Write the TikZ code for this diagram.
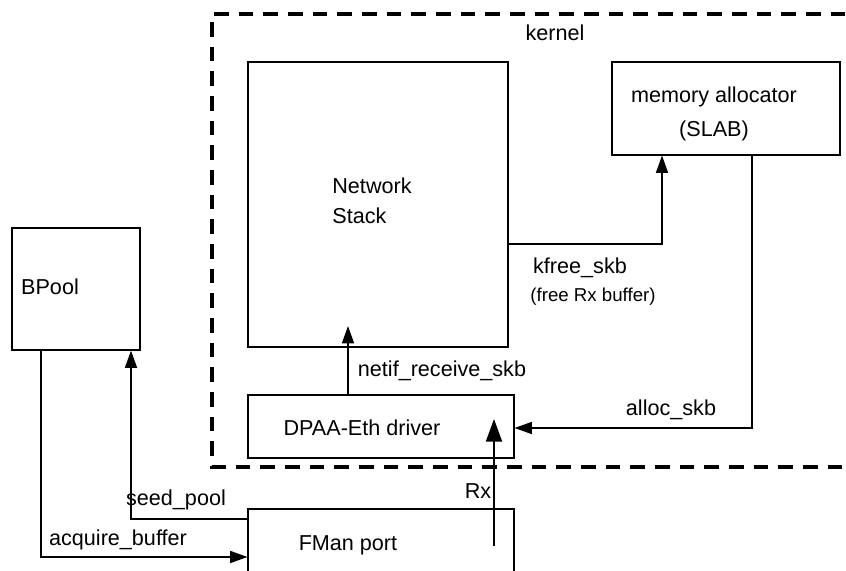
\documentclass[tikz,border=0pt]{standalone}
\usepackage{fontspec}
\setmainfont{Liberation Sans}
\usetikzlibrary{arrows.meta}
\begin{document}
\begin{tikzpicture}[x=0.75pt,y=-0.75pt,
  box/.style={draw, line width=0.8pt, inner sep=0pt, rectangle},
  lbl/.style={font=\fontsize{16.2}{22.5}\selectfont, inner sep=0pt},
  small/.style={font=\fontsize{14}{16}\selectfont, inner sep=0pt},
  arr/.style={line width=1.2pt, -{Triangle[length=13pt,width=9pt]}},
  bigarr/.style={line width=1.6pt, -{Triangle[length=17pt,width=12pt]}},
  kernelline/.style={line width=3pt, dash pattern=on 11pt off 7.5pt}]
\useasboundingbox (0,0) rectangle (846,571);
\clip (0,0) rectangle (846,571);
% kernel region
\draw[kernelline] (870,14) -- (212,14) -- (212,467) -- (870,467);
\node[lbl] (kernel) at (555,33) {kernel};
% boxes
\node[box, line width=1.5pt, minimum width=195pt, minimum height=213.75pt] (ns) at (378,204.5) {};
\node[lbl, align=left] (nstxt) at (372,201) {Network\\Stack};
\node[box, minimum width=171pt, minimum height=69.75pt] (mem) at (726,108.5) {};
\node[lbl, align=center, font=\fontsize{16.2}{26}\selectfont] (memtxt) at (714,114) {memory allocator\\(SLAB)};
\node[box, minimum width=199.5pt, minimum height=47.25pt] (drv) at (381,426.5) {};
\node[lbl] (drvtxt) at (362,428) {DPAA-Eth driver};
\node[box, minimum width=199.5pt, minimum height=60.75pt] (fman) at (381,549.5) {};
\node[lbl] (fmantxt) at (348,545) {FMan port};
\node[box, minimum width=96pt, minimum height=91.5pt] (bpool) at (76,289) {};
\node[lbl] (bpooltxt) at (50,287) {BPool};
% connectors
\draw[arr] (ns.east |- 0,244) -| (662,0 |- mem.south);
\node[lbl] (kfree) at (580,268) {kfree\_skb};
\node[small] (kfreesub) at (593,297) {(free Rx buffer)};
\draw[arr] (752,0 |- mem.south) |- (drv.east |- 0,428);
\node[lbl] (alloc) at (671,410) {alloc\_skb};
\coordinate (netifend) at (348,326);
\draw[arr] (348,0 |- drv.north) -- (netifend);
\node[lbl] (netif) at (442,371) {netif\_receive\_skb};
\coordinate (rxstart) at (494,546);
\coordinate (rxend) at (494,419);
\draw[bigarr] (rxstart) -- (rxend);
\node[lbl] (rx) at (478,491) {Rx};
\draw[arr] (fman.west |- 0,519) -| (131,0 |- bpool.south);
\node[lbl] (seed) at (176,500) {seed\_pool};
\draw[arr] (41,0 |- bpool.south) |- (fman.west |- 0,557);
\node[lbl] (acq) at (118,540) {acquire\_buffer};
\end{tikzpicture}
\end{document}
